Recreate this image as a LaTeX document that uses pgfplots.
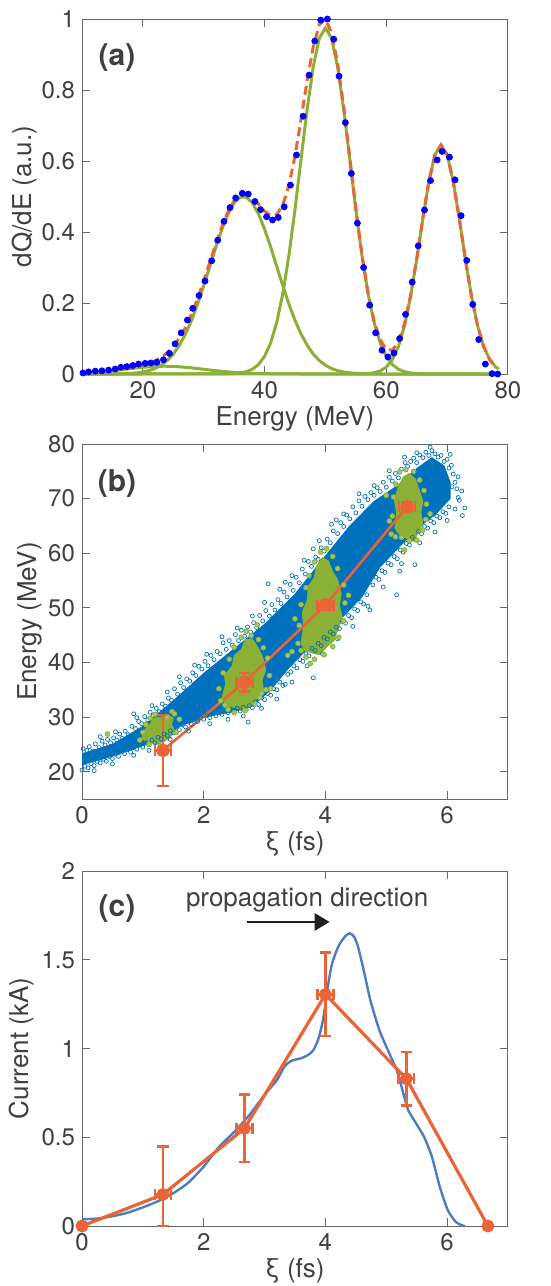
\documentclass[border=0pt]{standalone}
\usepackage{pgfplots}
\pgfplotsset{compat=1.18}
\usepackage{fontspec}
\setmainfont{TeX Gyre Heros}
\usetikzlibrary{arrows.meta}
\definecolor{txtgray}{RGB}{64,64,64}
\definecolor{boxgray}{RGB}{105,105,105}
\definecolor{dotblue}{RGB}{0,0,255}
\definecolor{fitorange}{RGB}{234,100,56}
\definecolor{fitgreen}{RGB}{138,177,53}
\definecolor{mblue}{RGB}{0,114,189}
\definecolor{curblue}{RGB}{79,124,190}
\definecolor{arrowblack}{RGB}{35,31,32}

\pgfplotsset{
  panel/.style={
    scale only axis, width=213pt, height=177.5pt,
    axis line style={boxgray, line width=0.5pt},
    tick style={boxgray, line width=0.5pt},
    tick align=inside, major tick length=4pt,
    tick pos=both,
    ticklabel style={font=\fontsize{12}{14}\selectfont, text=txtgray},
    label style={font=\fontsize{13}{15}\selectfont, text=txtgray},
    /pgf/number format/assume math mode=true,
    x label style={at={(axis description cs:0.5,-0.127)}, anchor=center},
    clip=false,
  },
  errs/.style={error bars/.cd, x dir=both, x explicit, y dir=both, y explicit,
    error bar style={line width=1.2pt, fitorange},
    error mark options={rotate=90, mark size=2.8pt, line width=1.2pt, fitorange}},
}
\tikzset{tag/.style={font=\bfseries\fontsize{15}{18}\selectfont, text=txtgray}}

\begin{document}
\begin{tikzpicture}

% ---------------- (a) energy spectrum with gaussian fit
\begin{axis}[panel, at={(41pt,-9.5pt)}, anchor=north west,
  xmin=10, xmax=80, ymin=0, ymax=1,
  xtick={20,40,60,80}, ytick={0,0.2,0.4,0.6,0.8,1},
  xlabel={Energy (MeV)}, ylabel={dQ/dE (a.u.)},
  y label style={at={(axis description cs:-0.134,0.5)}, anchor=center}]
\addplot[only marks, mark=*, mark size=1.5pt, dotblue] table {
10.16 0.003
11.09 0.006
12.19 0.008
13.28 0.009
14.37 0.011
15.46 0.014
16.39 0.019
17.38 0.021
18.36 0.024
19.29 0.028
20.38 0.030
21.31 0.031
22.30 0.033
23.39 0.040
24.37 0.058
25.30 0.085
26.28 0.116
27.32 0.152
28.20 0.185
29.23 0.221
30.22 0.262
31.31 0.319
32.30 0.377
33.33 0.430
34.32 0.469
35.25 0.496
36.34 0.509
37.32 0.507
38.42 0.486
39.34 0.463
40.33 0.443
41.31 0.434
42.24 0.441
43.22 0.471
44.26 0.532
45.25 0.617
46.34 0.726
47.32 0.842
48.25 0.938
49.23 0.997
50.33 1.000
51.37 0.943
52.24 0.839
53.28 0.708
54.26 0.565
55.25 0.425
56.28 0.300
57.27 0.194
58.25 0.116
59.29 0.067
60.27 0.048
61.26 0.059
62.19 0.100
63.17 0.168
64.26 0.259
65.25 0.361
66.28 0.462
67.27 0.545
68.36 0.603
69.18 0.627
70.38 0.611
71.31 0.547
72.30 0.446
73.22 0.320
74.21 0.196
75.19 0.097
76.28 0.028
77.38 0.001
78.31 0.000
};
% gaussian components
\addplot[fitgreen, line width=1.5pt] table {
10 0.0025
11.5 0.004
13.5 0.0067
15.5 0.0103
17.5 0.0144
19.5 0.0182
21.5 0.021
23.5 0.022
25.5 0.021
27.5 0.0182
29.5 0.0144
31.5 0.0103
33.5 0.0067
35.5 0.004
37.5 0.0022
39.5 0.0011
41.5 0.0005
43.5 0.0002
46 0
78.5 0
};
\addplot[fitgreen, line width=1.5pt] table {
10 0
15 0.0001
16 0.0005
17 0.0009
18 0.0018
19 0.0032
20 0.0056
21 0.0095
22 0.0155
23 0.0246
24 0.038
25 0.056
26 0.081
27 0.1125
28 0.151
29 0.197
30 0.249
31 0.303
32 0.358
33 0.408
34 0.451
35 0.482
36 0.498
37 0.498
38 0.482
39 0.451
40 0.408
41 0.358
42 0.303
43 0.249
44 0.197
45 0.151
46 0.1125
47 0.081
48 0.056
49 0.038
50 0.0246
51 0.0155
52 0.0095
53 0.0056
54 0.0032
55 0.0018
56 0.0009
57 0.0005
59 0
78.5 0
};
\addplot[fitgreen, line width=1.5pt] table {
10 0
33 0.0001
34 0.0005
35 0.0012
36 0.0029
37 0.0064
38 0.0134
39 0.0267
40 0.0498
41 0.0876
42 0.1453
43 0.227
44 0.3341
45 0.4635
46 0.6058
47 0.746
48 0.8656
49 0.9464
50 0.975
51 0.9464
52 0.8656
53 0.746
54 0.6058
55 0.4635
56 0.3341
57 0.227
58 0.1453
59 0.0876
60 0.0498
61 0.0267
62 0.0134
63 0.0064
64 0.0029
65 0.0012
66 0.0005
67 0.0001
78.5 0
};
\addplot[fitgreen, line width=1.5pt] table {
10 0
54 0.0001
56 0.0004
57 0.0013
58 0.0034
59 0.0085
60 0.0194
61 0.0405
62 0.0775
63 0.136
64 0.2188
65 0.3228
66 0.437
67 0.5425
68 0.6177
69 0.645
70 0.6177
71 0.5425
72 0.437
73 0.3228
74 0.2188
75 0.136
76 0.0775
77 0.0405
78 0.0194
78.5 0.0135
};
% total fit
\addplot[fitorange, line width=1.5pt, dash pattern=on 4.5pt off 2.5pt] table {
10 0.0025
11 0.0035
12 0.0046
13 0.006
14 0.0076
15 0.0094
16 0.0118
17 0.0142
18 0.0172
19 0.0205
20 0.0246
21 0.0299
22 0.0369
23 0.0465
24 0.0599
25 0.0774
26 0.1014
27 0.1315
28 0.1683
29 0.2124
30 0.2623
31 0.3143
32 0.3674
33 0.4156
34 0.4575
35 0.4878
36 0.5044
37 0.5069
38 0.4972
39 0.479
40 0.4587
41 0.4462
42 0.4487
43 0.4762
44 0.5311
45 0.6145
46 0.7183
47 0.827
48 0.9216
49 0.9844
50 0.9996
51 0.9619
52 0.8751
53 0.7516
54 0.609
55 0.4653
56 0.3354
57 0.2288
58 0.1487
59 0.0961
60 0.0692
61 0.0672
62 0.0909
63 0.1424
64 0.2217
65 0.324
66 0.4375
67 0.5425
68 0.6177
69 0.645
70 0.6177
71 0.5425
72 0.437
73 0.3228
74 0.2188
75 0.136
76 0.0775
77 0.0405
78 0.0194
};
\node[tag] at (axis cs:15.75,0.89) {(a)};
\end{axis}

% ---------------- (b) longitudinal phase space
\begin{axis}[panel, at={(41pt,-222pt)}, anchor=north west, clip=true,
  xmin=0, xmax=7, ymin=15, ymax=80,
  xtick={0,2,4,6}, ytick={20,30,...,80},
  xlabel={ξ (fs)}, ylabel={Energy (MeV)},
  y label style={at={(axis description cs:-0.122,0.5)}, anchor=center}]
% dense core of the electron cloud
\addplot[fill=mblue, draw=mblue, line width=0.4pt] coordinates {
(0.0,23.3) (0.5,25.0) (1.0,28.3) (1.5,33.0) (2.0,38.0) (2.5,42.5) (3.0,47.0)
(3.5,52.5) (4.0,59.5) (4.4,65.0) (4.8,69.5) (5.2,72.5) (5.5,75.5) (5.75,77.5)
(5.95,76.0) (6.05,73.0) (6.05,70.0) (5.8,67.0) (5.5,64.5) (5.2,61.0) (4.9,57.5)
(4.6,52.0) (4.3,48.5) (4.0,45.5) (3.7,42.5) (3.4,39.0) (3.1,35.0) (2.8,32.0)
(2.5,31.0) (2.0,30.0) (1.6,28.3) (1.2,25.5) (0.8,24.0) (0.4,22.5) (0.0,21.3)
} -- cycle;
% sparse particles around the core
\addplot[only marks, mark=o, mark size=1pt, mblue, mark options={line width=0.35pt}] coordinates {
(0.02,24.2) (0.08,23.9) (0.12,24.6) (0.18,23.8) (0.22,25.1) (0.28,24.4) (0.33,25.6) (0.38,24.9)
(0.42,25.9) (0.47,25.3) (0.52,26.2) (0.57,25.8) (0.62,26.9) (0.66,26.1) (0.71,27.4) (0.76,26.8)
(0.82,28.3) (0.85,30.6) (0.88,27.9) (0.93,29.2) (0.98,28.8) (1.03,30.1) (1.08,29.5) (1.12,30.9)
(1.17,30.3) (1.22,31.6) (1.27,31.0) (1.32,32.4) (1.37,32.0) (1.42,33.5) (1.47,33.1) (1.52,35.2)
(1.57,34.2) (1.62,36.3) (1.67,35.4) (1.72,37.0) (1.77,36.6) (1.82,38.1) (1.87,37.6) (1.92,39.3)
(1.97,38.8) (2.02,40.2) (2.07,39.4) (2.12,41.3) (2.17,40.5) (2.22,42.0) (2.27,41.6) (2.32,43.6)
(2.37,42.4) (2.42,44.0) (2.47,43.2) (2.52,45.1) (2.57,44.0) (2.62,45.9) (2.67,44.8) (2.72,46.5)
(2.77,45.6) (2.82,47.3) (2.87,46.4) (2.92,48.6) (2.97,47.6) (3.02,49.5) (3.06,54.4) (3.08,48.5)
(3.12,50.6) (3.17,49.6) (3.22,51.5) (3.27,50.8) (3.34,54.7) (3.32,52.9) (3.37,52.0) (3.42,54.3)
(3.47,53.2) (3.52,55.6) (3.57,54.6) (3.62,57.1) (3.67,56.2) (3.72,58.5) (3.77,57.6) (3.80,60.8)
(3.84,59.3) (3.88,58.9) (3.93,61.0) (3.98,60.4) (4.03,62.6) (4.08,61.9) (4.13,64.1) (4.18,66.1)
(4.20,63.6) (4.25,65.6) (4.30,64.9) (4.35,67.0) (4.40,66.3) (4.45,68.5) (4.50,67.4) (4.55,69.6)
(4.60,68.6) (4.65,70.4) (4.70,69.8) (4.75,71.1) (4.80,70.6) (4.85,72.0) (4.90,71.3) (4.95,73.0)
(5.00,72.1) (5.05,73.9) (5.10,73.2) (5.15,74.6) (5.20,73.8) (5.25,75.4) (5.31,76.6) (5.35,75.9)
(5.40,76.8) (5.45,77.4) (5.50,76.6) (5.55,78.0) (5.60,77.5) (5.65,78.5) (5.70,77.9) (5.75,78.8)
(5.80,78.2) (5.85,77.6) (5.90,77.9) (5.95,76.8) (6.00,77.2) (6.03,75.6) (6.07,76.1) (6.10,74.5)
(6.08,72.2) (6.13,73.0) (6.16,71.8)
(0.3,26.4) (0.55,27.3) (0.9,29.9) (1.15,32.1) (1.4,34.6) (1.6,37.4) (1.85,39.5) (2.05,41.5)
(2.3,44.7) (2.55,46.3) (2.8,48.5) (3.0,51.0) (3.25,53.4) (3.45,55.9) (3.65,58.7) (3.9,62.3)
(4.1,65.3) (4.3,67.2) (4.55,70.9) (4.8,72.4) (5.05,75.1) (5.3,77.6) (5.5,78.4) (5.72,79.4)
(6.05,78.1) (6.18,74.0)
(0.00,20.3) (0.05,21.0) (0.10,20.7) (0.15,21.5) (0.20,21.1) (0.25,21.9) (0.30,21.6) (0.35,22.3)
(0.40,21.9) (0.45,22.8) (0.50,22.4) (0.55,23.2) (0.60,22.8) (0.65,23.6) (0.70,23.3) (0.75,24.0)
(0.80,23.6) (0.85,24.4) (0.90,24.1) (0.95,24.9) (1.00,24.5) (1.05,25.3) (1.10,24.9) (1.15,25.8)
(1.20,25.3) (1.25,26.3) (1.30,26.0) (1.35,26.9) (1.40,26.6) (1.45,27.5) (1.50,27.1) (1.55,28.0)
(1.60,27.7) (1.65,28.6) (1.70,28.2) (1.75,29.1) (1.80,28.7) (1.85,29.5) (1.90,29.2) (1.95,29.9)
(2.00,29.6) (2.05,30.3) (2.10,29.9) (2.15,30.6) (2.20,30.2) (2.25,30.9) (2.30,30.5) (2.35,31.2)
(2.40,30.8) (2.45,31.4) (2.50,30.9) (2.55,31.6) (2.60,31.1) (2.65,31.8) (2.70,31.4) (2.73,29.1)
(2.75,32.1) (2.80,31.7) (2.85,32.8) (2.90,32.3) (2.95,33.5) (3.00,33.2) (3.05,34.3) (3.10,34.0)
(3.15,35.2) (3.20,35.0) (3.25,36.4) (3.30,35.8) (3.34,36.0) (3.38,37.8) (3.43,38.3) (3.48,39.4)
(3.53,39.0) (3.58,40.5) (3.63,40.2) (3.68,41.6) (3.73,41.2) (3.80,37.2) (3.78,42.6) (3.83,42.2)
(3.88,43.5) (3.93,43.1) (3.98,44.6) (4.03,44.3) (4.08,45.6) (4.13,45.2) (4.18,46.5) (4.23,46.2)
(4.28,47.5) (4.33,47.2) (4.38,48.6) (4.43,48.2) (4.48,49.8) (4.53,49.5) (4.58,51.1) (4.65,54.6)
(4.73,49.6) (4.63,50.7) (4.68,52.4) (4.78,54.2) (4.83,55.6) (4.88,55.2) (4.93,56.8) (4.98,56.5)
(5.03,58.2) (5.08,57.9) (5.13,59.4) (5.17,52.4) (5.22,56.7) (5.18,59.0) (5.23,60.6) (5.28,60.2)
(5.33,61.8) (5.38,61.5) (5.43,62.9) (5.47,57.9) (5.48,62.5) (5.53,64.0) (5.58,63.6) (5.63,64.9)
(5.68,64.6) (5.73,65.9) (5.78,65.6) (5.83,66.8) (5.88,66.5) (5.93,67.6) (5.98,67.3) (6.03,68.5)
(6.13,68.1) (6.20,69.7) (6.29,68.3) (6.24,71.4) (6.18,70.2)
(0.2,20.2) (0.5,21.4) (0.85,23.0) (1.1,23.9) (1.45,25.9) (1.75,27.4) (2.1,28.8) (2.4,29.6)
(2.65,30.2) (2.95,31.6) (3.2,33.3) (3.45,36.4) (3.7,39.4) (3.95,41.6) (4.2,44.3) (4.45,46.6)
(4.7,50.3) (4.95,53.8) (5.25,58.1) (5.55,61.9) (5.8,63.9) (6.0,66.0) (6.25,66.9)
};
% selected slices (green)
\addplot[fill=fitgreen, draw=fitgreen, line width=0.4pt] coordinates {
(0.98,26.0) (1.02,27.6) (1.1,28.4) (1.18,29.8) (1.3,30.0) (1.38,30.6) (1.5,29.8) (1.47,28.6)
(1.53,27.6) (1.45,26.2) (1.36,25.6) (1.25,25.0) (1.12,25.3)
} -- cycle;
\addplot[fill=fitgreen, draw=fitgreen, line width=0.4pt] coordinates {
(2.3,33.6) (2.36,36.0) (2.34,37.6) (2.47,39.4) (2.5,41.3) (2.62,42.4) (2.68,44.2) (2.8,44.3)
(2.9,42.6) (2.97,41.0) (3.02,38.6) (2.96,36.8) (2.98,35.0) (2.88,33.6) (2.8,32.0) (2.62,31.2)
(2.52,31.8) (2.4,31.6)
} -- cycle;
\addplot[fill=fitgreen, draw=fitgreen, line width=0.4pt] coordinates {
(3.6,43.5) (3.64,46.6) (3.62,49.2) (3.7,51.4) (3.72,54.0) (3.82,55.6) (3.85,57.6) (3.95,59.2)
(4.05,58.6) (4.12,56.6) (4.2,55.2) (4.26,52.6) (4.23,50.4) (4.28,48.2) (4.2,45.8) (4.14,44.0)
(4.0,42.6) (3.9,41.4) (3.76,41.8) (3.66,42.2)
} -- cycle;
\addplot[fill=fitgreen, draw=fitgreen, line width=0.4pt] coordinates {
(5.14,64.6) (5.17,67.4) (5.13,69.8) (5.2,72.2) (5.28,74.0) (5.38,74.6) (5.48,73.6) (5.54,71.6)
(5.6,69.6) (5.57,67.4) (5.6,65.4) (5.52,63.6) (5.44,62.2) (5.32,62.8) (5.22,63.4)
} -- cycle;
\addplot[only marks, mark=*, mark size=1.2pt, fitgreen, mark options={fill=fitgreen!75!white, line width=0.4pt}] coordinates {
(0.42,26.9) (0.95,25.8) (1.0,27.2) (1.05,28.6) (1.12,29.8) (1.2,30.5) (1.55,27.2) (1.6,29.6)
(1.48,31.0) (1.1,25.0) (1.3,24.6) (1.4,29.9) (1.52,30.6)
(2.25,35.2) (2.28,33.0) (2.32,38.1) (2.42,40.6) (2.5,42.8) (2.62,44.6) (2.7,45.7) (2.78,44.9)
(2.9,44.2) (2.98,42.7) (3.05,40.8) (3.08,37.6) (3.02,35.0) (2.92,33.6) (2.85,32.4) (2.68,31.2)
(2.5,30.8) (2.4,31.4) (2.35,32.2) (2.95,34.4) (3.1,35.2) (2.88,46.9)
(3.55,43.5) (3.57,46.8) (3.6,50.6) (3.68,53.7) (3.73,55.9) (3.82,58.4) (3.92,60.2) (4.02,60.9)
(4.12,59.4) (4.2,57.2) (4.3,54.2) (4.32,50.9) (4.3,47.6) (4.22,44.6) (4.12,42.9) (3.98,41.4)
(3.82,40.6) (3.68,41.0) (3.6,42.2) (3.45,42.0) (3.38,41.3) (3.5,48.0) (4.38,52.3) (3.75,39.8)
(5.08,63.5) (5.1,66.8) (5.12,70.3) (5.16,72.6) (5.22,74.9) (5.32,75.3) (5.45,75.0) (5.55,73.4)
(5.62,71.5) (5.66,69.0) (5.65,66.2) (5.6,64.2) (5.5,62.4) (5.38,62.3) (5.25,62.9) (5.15,63.0)
(5.0,70.6) (5.72,67.2) (5.3,60.6) (5.05,65.9)
};
% slice centroids
\addplot[fitorange, line width=1.3pt, mark=*, mark size=2.8pt, errs] coordinates {
(1.33,23.9) +- (0.13,6.5)
(2.67,36.4) +- (0.13,1.7)
(4.0,50.5) +- (0.13,0.8)
(5.34,68.5) +- (0.13,0.8)
};
\node[tag] at (axis cs:0.575,72.7) {(b)};
\end{axis}

% ---------------- (c) current profile
\begin{axis}[panel, at={(41pt,-435.5pt)}, anchor=north west,
  xmin=0, xmax=7, ymin=0, ymax=2,
  xtick={0,2,4,6}, ytick={0,0.5,1,1.5,2},
  xlabel={ξ (fs)}, ylabel={Current (kA)},
  y label style={at={(axis description cs:-0.141,0.5)}, anchor=center}]
\addplot[curblue, line width=1.2pt, smooth, tension=0.4] table {
0 0.038
0.25 0.042
0.5 0.055
0.75 0.075
1.0 0.105
1.25 0.14
1.5 0.185
1.75 0.245
2.0 0.335
2.25 0.445
2.5 0.53
2.75 0.625
3.0 0.74
3.2 0.82
3.33 0.90
3.45 0.932
3.6 0.945
3.72 0.965
3.8 0.99
3.88 1.05
3.96 1.16
4.04 1.35
4.11 1.48
4.22 1.58
4.32 1.63
4.40 1.649
4.47 1.63
4.53 1.58
4.63 1.44
4.74 1.27
4.89 1.10
5.05 0.973
5.18 0.87
5.28 0.747
5.36 0.653
5.49 0.578
5.62 0.503
5.75 0.39
5.88 0.22
6.01 0.09
6.14 0.024
6.25 0.003
6.3 0.0
};
\addplot[fitorange, line width=1.6pt, mark=*, mark size=2.4pt] coordinates {
(0,0) (1.33,0.178) (2.67,0.55) (4.0,1.305) (5.33,0.83) (6.67,0)
};
\addplot[fitorange, only marks, mark=*, mark size=2.4pt, errs] coordinates {
(1.33,0.178) += (0.13,0.27) -= (0.13,0.178)
(2.67,0.55) +- (0.13,0.19)
(4.0,1.305) +- (0.13,0.235)
(5.33,0.83) +- (0.13,0.15)
};
\node[tag] at (axis cs:0.575,1.786) {(c)};
\node[font=\fontsize{13}{15}\selectfont, text=txtgray] at (axis cs:3.70,1.84) {propagation direction};
\draw[arrowblack, line width=1.4pt, -{Triangle[length=7.5pt, width=8.5pt]}] (axis cs:2.71,1.713) -- (axis cs:4.07,1.713);
\end{axis}

\pgfresetboundingbox
\path (0,0) rectangle (275.5pt,-643pt);
\end{tikzpicture}
\end{document}
